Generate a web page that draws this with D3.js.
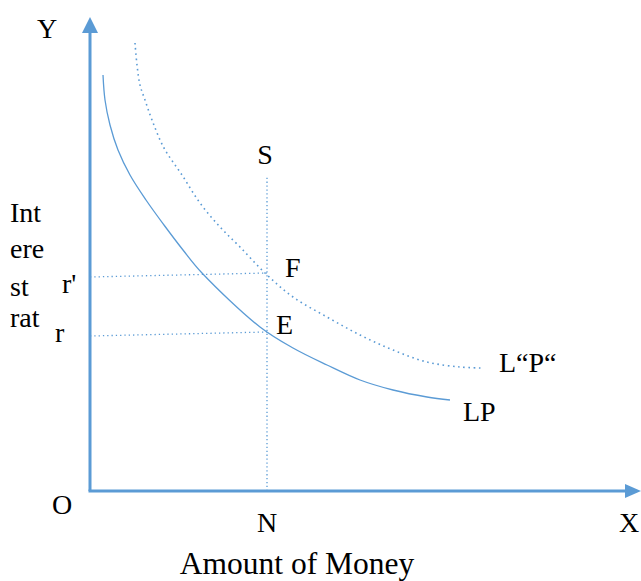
<!DOCTYPE html>
<html lang="en">
<head>
    <meta charset="UTF-8">
    <title>Liquidity Preference</title>
    <script src="https://d3js.org/d3.v7.min.js"></script>
    <style>
        body { margin: 0; background: #fff; }
        svg text { font-family: "Liberation Serif", "Times New Roman", serif; font-size: 28px; fill: #000; }
    </style>
</head>
<body>
<script>
    var w = 641;
    var h = 581;

    // curve points (money, rate)
    var lpMoney = [13, 15, 20, 28, 40, 56, 74, 93, 112, 170, 203, 237, 270, 303, 337, 360];
    var lpRate  = [416, 391, 366, 341, 316, 291, 266, 241, 218, 164, 143, 126, 111, 101, 94, 91];

    var lp2Money = [45, 47, 50, 55, 62, 74, 92, 110, 130, 150, 175, 203, 237, 270, 303, 337, 370, 392];
    var lp2Rate  = [448, 426, 406, 391, 371, 343, 316, 288, 264, 244, 218, 194, 174, 156, 141, 129, 124, 123];

    var moneyN = 177;
    var sTop = 316;
    var rates = [{label: "r'", from: 214, to: 218}, {label: "r", from: 155, to: 159}];

    var yLabel = ["Int", "ere", "st", "rat"];

    var xScale = d3.scaleLinear().domain([0, 551]).range([90, 641]);
    var yScale = d3.scaleLinear().domain([0, 474]).range([491, 17]);

    var blue = "#5B9BD5";

    var svg = d3.select("body")
        .append("svg")
        .attr("width", w)
        .attr("height", h);

    // axes
    svg.append("line")
        .attr("x1", xScale(0)).attr("y1", yScale(0))
        .attr("x2", xScale(0)).attr("y2", yScale(458))
        .attr("stroke", blue).attr("stroke-width", 3);
    svg.append("path")
        .attr("d", "M" + (xScale(0) - 8) + "," + yScale(458) + "L" + xScale(0) + "," + yScale(474) +
            "L" + (xScale(0) + 8) + "," + yScale(458) + "Z")
        .attr("fill", blue);
    svg.append("line")
        .attr("x1", xScale(0) - 1.5).attr("y1", yScale(0))
        .attr("x2", xScale(535)).attr("y2", yScale(0))
        .attr("stroke", blue).attr("stroke-width", 3);
    svg.append("path")
        .attr("d", "M" + xScale(535) + "," + (yScale(0) - 7) + "L" + xScale(551) + "," + yScale(0) +
            "L" + xScale(535) + "," + (yScale(0) + 7) + "Z")
        .attr("fill", blue);

    // supply line and rate guides
    svg.append("line")
        .attr("x1", xScale(moneyN)).attr("y1", yScale(0))
        .attr("x2", xScale(moneyN)).attr("y2", yScale(sTop))
        .attr("stroke", blue).attr("stroke-width", 1.3)
        .attr("stroke-dasharray", "1.3,2.6");

    svg.selectAll(".guide")
        .data(rates)
        .enter()
        .append("line")
        .attr("class", "guide")
        .attr("x1", xScale(0)).attr("y1", function(d){ return yScale(d.from); })
        .attr("x2", xScale(moneyN)).attr("y2", function(d){ return yScale(d.to); })
        .attr("stroke", blue).attr("stroke-width", 1.3)
        .attr("stroke-dasharray", "1.3,3");

    var line = d3.line()
        .x(function(d){ return xScale(d[0]); })
        .y(function(d){ return yScale(d[1]); })
        .curve(d3.curveCatmullRom.alpha(0.5));

    svg.append("path")
        .attr("d", line(d3.zip(lpMoney, lpRate)))
        .attr("fill", "none")
        .attr("stroke", blue).attr("stroke-width", 1.3);

    svg.append("path")
        .attr("d", line(d3.zip(lp2Money, lp2Rate)))
        .attr("fill", "none")
        .attr("stroke", blue).attr("stroke-width", 1.6)
        .attr("stroke-dasharray", "1.6,3.6");

    // labels
    function label(t, x, y, anchor) {
        svg.append("text")
            .attr("x", x).attr("y", y)
            .attr("text-anchor", anchor || "start")
            .text(t);
    }

    label("Y", 37, 38);
    label("O", 52, 514);
    label("N", xScale(moneyN), 532, "middle");
    label("X", 619, 532);
    label("S", xScale(moneyN) - 2, 164, "middle");
    label("F", 285, 277);
    label("E", 276, 334);
    label("L\u201CP\u201C", 499, 372);
    label("LP", 463, 421);
    label("r'", 62, 293);
    label("r", 55, 342);

    svg.selectAll(".ylab")
        .data(yLabel)
        .enter()
        .append("text")
        .attr("class", "ylab")
        .attr("x", 10)
        .attr("y", function(d, i){ return [222, 258, 296, 327][i]; })
        .text(function(d){ return d; });

    svg.append("text")
        .attr("x", 297).attr("y", 574)
        .attr("text-anchor", "middle")
        .style("font-size", "31.5px")
        .text("Amount of Money");
</script>
</body>
</html>
